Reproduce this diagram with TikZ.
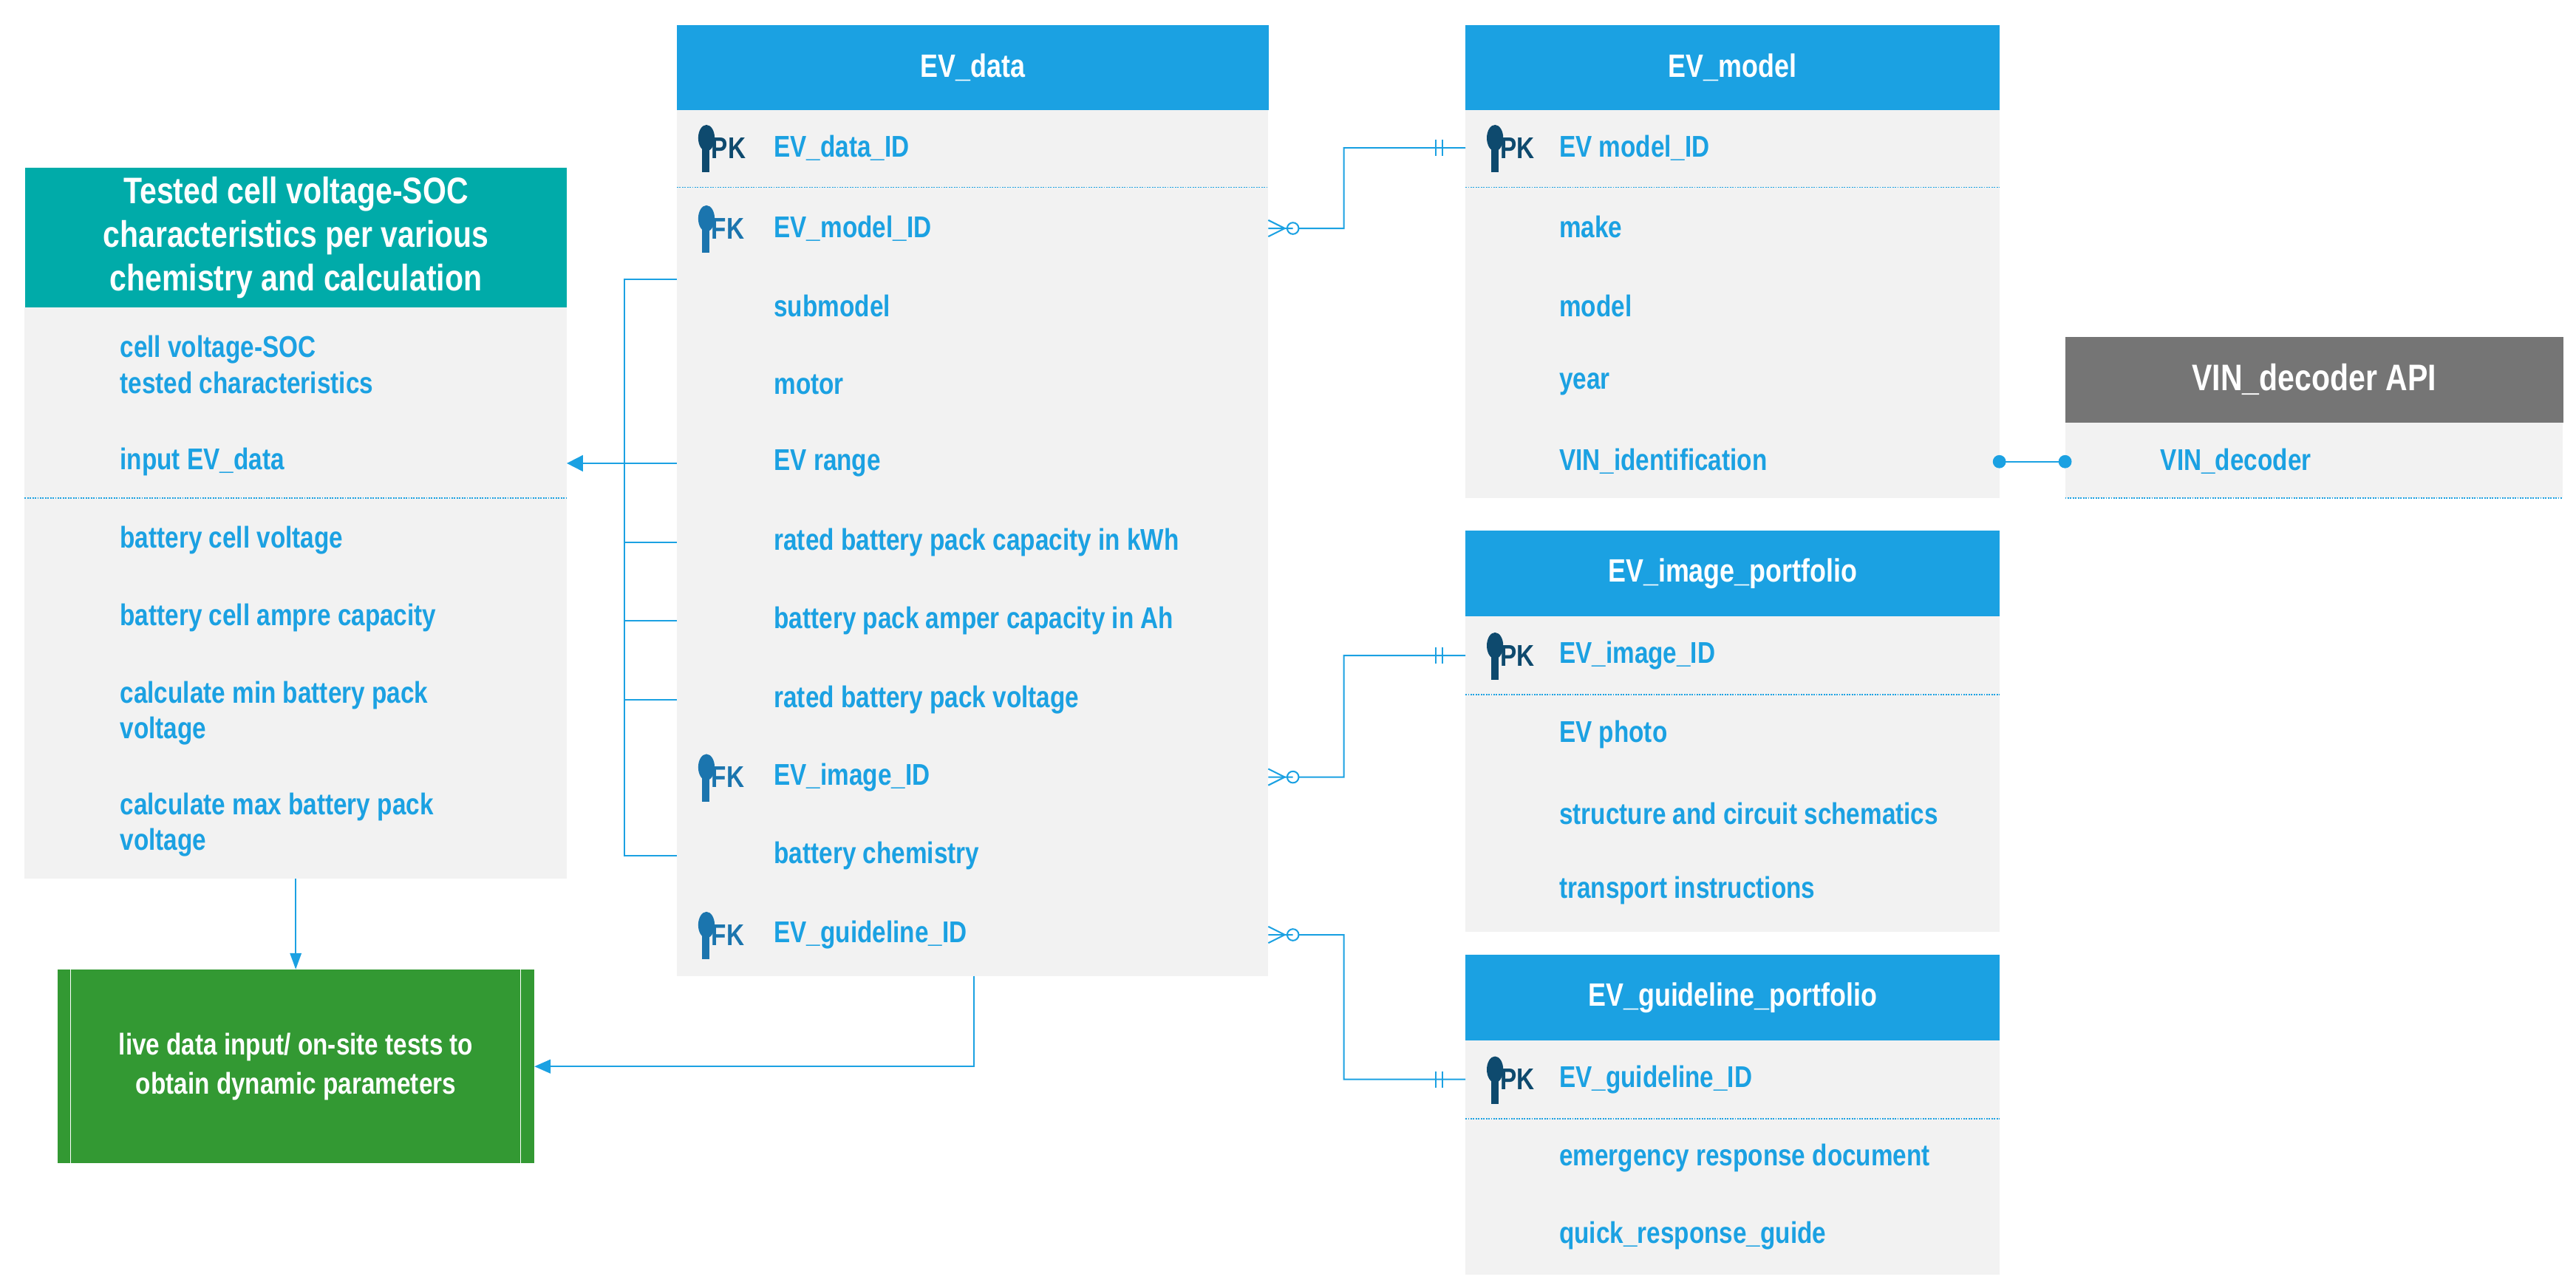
\documentclass[tikz,border=0pt]{standalone}
\usepackage{fontspec}
\setmainfont[FakeStretch=0.82]{Liberation Sans}
\usetikzlibrary{positioning,arrows.meta}
\definecolor{hdblue}{HTML}{1BA1E2}
\definecolor{hdteal}{HTML}{00ABA9}
\definecolor{hdgray}{HTML}{757575}
\definecolor{boxgreen}{HTML}{339933}
\definecolor{bodygray}{HTML}{F2F2F2}
\definecolor{pkdark}{HTML}{0E4A6E}
\definecolor{fkblue}{HTML}{1B75AE}
\tikzset{
  header/.style={fill=hdblue, text=white, font=\fontsize{28}{33}\selectfont\bfseries},
  body/.style={fill=bodygray},
  field/.style={anchor=west, text=hdblue, font=\fontsize{26}{31}\selectfont\bfseries, align=left, inner sep=0pt},
  sep/.style={hdblue, densely dotted, line width=1.2pt},
  link/.style={hdblue, line width=1.3pt},
}
% key symbol with PK/FK label
\newcommand{\keyfield}[4]{% x, y, PK/FK, colour
  \fill[#4] (#1,#2-6) ellipse (5 and 8);
  \fill[#4] (#1-2.5,#2) rectangle (#1+2,#2+15);
  \node[anchor=west, text=#4, font=\fontsize{26}{31}\selectfont\bfseries, inner sep=0pt] at (#1+3,#2) {#3};
}
\begin{document}
\begin{tikzpicture}[x=0.5mm, y=-0.5mm]
\useasboundingbox (0,0) rectangle (1568,784);

% Tested cell table
\fill[body] (15,187) rectangle (345,535);
\node[header, fill=hdteal, minimum width=330*0.5mm, minimum height=85*0.5mm, anchor=north west, align=center,
  font=\fontsize{32}{38}\selectfont\bfseries] (cell) at (15,102)
  {Tested cell voltage-SOC\\characteristics per various\\chemistry and calculation};
\node[field] (cellA) at (73,222) {cell voltage-SOC\\tested characteristics};
\node[field] (cellB) at (73,281) {input EV\_data};
\draw[sep] (15,303) -- (345,303);
\node[field] at (73,329) {battery cell voltage};
\node[field] at (73,376) {battery cell ampre capacity};
\node[field] at (73,434) {calculate min battery pack\\voltage};
\node[field] at (73,502) {calculate max battery pack\\voltage};
\coordinate (cellR) at (345,282);
\coordinate (cellS) at (180,535);

% live data box
\node[fill=boxgreen, minimum width=290*0.5mm, minimum height=118*0.5mm, anchor=north west, text=white,
  font=\fontsize{26}{34}\selectfont\bfseries, align=center] (live) at (35,590)
  {live data input/ on-site tests to\\obtain dynamic parameters};
\draw[white, line width=0.8pt] (43,590) -- (43,708) (317,590) -- (317,708);

% EV_data table
\fill[body] (412,67) rectangle (772,594);
\node[header, minimum width=360*0.5mm, minimum height=52*0.5mm, anchor=north west] (data) at (412,15) {EV\_data};
\keyfield{430}{90}{PK}{pkdark}
\node[field] at (471,90) {EV\_data\_ID};
\draw[sep] (412,114) -- (772,114);
\keyfield{430}{139}{FK}{fkblue}
\node[field] at (471,139) {EV\_model\_ID};
\foreach \y/\t in {186/submodel, 234/motor, 282/EV range, 330/rated battery pack capacity in kWh,
  378/battery pack amper capacity in Ah, 426/rated battery pack voltage, 521/battery chemistry}
  \node[field] at (471,\y) {\t};
\keyfield{430}{473}{FK}{fkblue}
\node[field] at (471,473) {EV\_image\_ID};
\keyfield{430}{569}{FK}{fkblue}
\node[field] at (471,569) {EV\_guideline\_ID};
\coordinate (dModel) at (772,139);
\coordinate (dImage) at (772,473);
\coordinate (dGuide) at (772,569);
\coordinate (dBottom) at (593,594);

% EV_model table
\fill[body] (892,67) rectangle (1217,303);
\node[header, minimum width=325*0.5mm, minimum height=52*0.5mm, anchor=north west] (model) at (892,15) {EV\_model};
\keyfield{910}{90}{PK}{pkdark}
\node[field] at (949,90) {EV model\_ID};
\draw[sep] (892,114) -- (1217,114);
\foreach \y/\t in {138/make, 186/model, 234/year, 281/VIN\_identification}
  \node[field] at (949,\y) {\t};
\coordinate (mKey) at (892,90);
\coordinate (mVin) at (1217,281);

% VIN decoder
\fill[body] (1257,257) rectangle (1560,303);
\node[header, fill=hdgray, minimum width=303*0.5mm, minimum height=52*0.5mm, anchor=north west,
  font=\fontsize{32}{38}\selectfont\bfseries] (vin) at (1257,205) {VIN\_decoder API};
\node[field] at (1315,281) {VIN\_decoder};
\draw[sep] (1257,303) -- (1560,303);
\coordinate (vDec) at (1257,281);

% EV_image_portfolio table
\fill[body] (892,375) rectangle (1217,567);
\node[header, minimum width=325*0.5mm, minimum height=52*0.5mm, anchor=north west] (image) at (892,323) {EV\_image\_portfolio};
\keyfield{910}{399}{PK}{pkdark}
\node[field] at (949,399) {EV\_image\_ID};
\draw[sep] (892,423) -- (1217,423);
\foreach \y/\t in {447/EV photo, 495/structure and circuit schematics, 542/transport instructions}
  \node[field] at (949,\y) {\t};
\coordinate (iKey) at (892,399);

% EV_guideline_portfolio table
\fill[body] (892,633) rectangle (1217,776);
\node[header, minimum width=325*0.5mm, minimum height=52*0.5mm, anchor=north west] (guide) at (892,581) {EV\_guideline\_portfolio};
\keyfield{910}{657}{PK}{pkdark}
\node[field] at (949,657) {EV\_guideline\_ID};
\draw[sep] (892,681) -- (1217,681);
\foreach \y/\t in {705/emergency response document, 752/quick\_response\_guide}
  \node[field] at (949,\y) {\t};
\coordinate (gKey) at (892,657);

% relations: zero-or-many to exactly one
\foreach \a/\b in {dModel/mKey, dImage/iKey, dGuide/gKey}{
  \draw[link] (\a) -- ++(15,0) circle (3.5) ++(3.5,0) -| (818,0 |- \b) -- (\b);
  \draw[link] (\a) ++(0,-5) -- ++(10,5) -- ++(-10,5);
  \draw[link] (\b) ++(-14,-5) -- ++(0,10) ++(-4,0) -- ++(0,-10);
}
\draw[link] (mVin) -- (vDec);
\fill[hdblue] (mVin) circle (4) (vDec) circle (4);

% flow into the tested cell table and the live data box
\draw[link] (412,170) -- (380,170) -- (380,521) -- (412,521);
\foreach \y in {330,378,426}
  \draw[link] (380,\y) -- (412,\y);
\draw[link, -{Triangle[length=14pt,width=14pt]}] (412,282) -- (cellR);
\draw[link, line width=0.9pt, -{Triangle[length=14pt,width=10pt]}] (cellS) -- (180,590);
\draw[link, -{Triangle[length=14pt,width=12pt]}] (dBottom) |- (live.east);
\end{tikzpicture}
\end{document}
